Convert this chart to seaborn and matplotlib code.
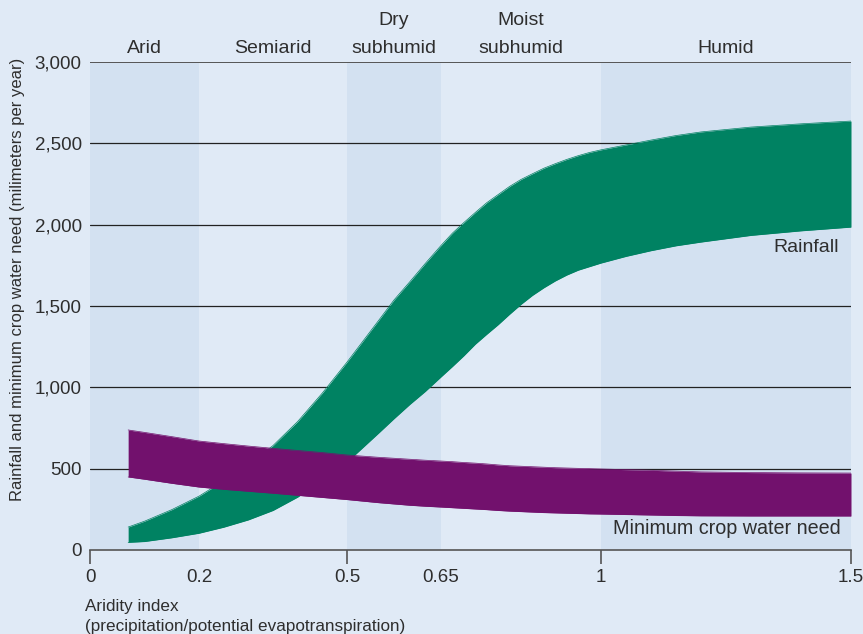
import matplotlib
matplotlib.use("Agg")
import matplotlib.pyplot as plt
import numpy as np
import seaborn as sns
import pandas as pd

# aridity zones (band edges on the aridity index axis)
zone_edges = [0, 0.2, 0.5, 0.65, 1, 1.5]
zone_names = ["Arid", "Semiarid", "Dry\nsubhumid", "Moist\nsubhumid", "Humid"]
tick_vals = [0, 0.2, 0.5, 0.65, 1, 1.5]
tick_text = ["0", "0.2", "0.5", "0.65", "1", "1.5"]
y_ticks = [0, 500, 1000, 1500, 2000, 2500, 3000]

# curves (mm per year)
aridity = [0.07, 0.1, 0.15, 0.2, 0.25, 0.3, 0.35, 0.4, 0.45, 0.5, 0.55, 0.575, 0.6,
           0.625, 0.65, 0.675, 0.7, 0.725, 0.75, 0.775, 0.8, 0.825, 0.85, 0.875,
           0.9, 0.925, 0.95, 0.975, 1.0, 1.05, 1.1, 1.15, 1.2, 1.3, 1.4, 1.5]
rain_high = [141, 177, 248, 331, 425, 525, 642, 790, 965, 1155, 1409, 1537, 1648,
             1762, 1872, 1948, 2013, 2075, 2135, 2185, 2235, 2278, 2313, 2347,
             2375, 2401, 2424, 2444, 2460, 2490, 2520, 2548, 2570, 2600, 2620, 2637]
rain_low = [47, 52, 75, 103, 140, 185, 243, 325, 430, 540, 717, 807, 894,
            975, 1064, 1128, 1194, 1265, 1326, 1385, 1449, 1510, 1565, 1612,
            1654, 1690, 1720, 1742, 1764, 1805, 1840, 1870, 1893, 1934, 1962, 1985]
need_high = [738, 723, 697, 670, 654, 639, 625, 612, 599, 584, 570, 564, 558,
             552, 547, 543, 538, 534, 529, 523, 518, 515, 512, 509,
             506, 504, 502, 500, 498, 494, 490, 485, 480, 476, 474, 473]
need_low = [449, 435, 410, 387, 373, 361, 349, 336, 323, 310, 291, 283, 275,
            269, 264, 260, 256, 252, 248, 243, 239, 236, 233, 230,
            228, 226, 224, 222, 221, 218, 215, 212, 210, 209, 209, 209]

df = pd.DataFrame({"aridity": aridity, "rain_high": rain_high, "rain_low": rain_low,
                   "need_high": need_high, "need_low": need_low})

bg = "#e0eaf6"
band_dark = "#d3e1f1"
green = "#008262"
purple = "#72116d"
txt = "#2e2e2e"

sns.set_style("white")
plt.rcParams['font.family'] = ['Liberation Sans', 'DejaVu Sans']

fig = plt.figure(figsize=(8.63, 6.34), dpi=100, facecolor=bg)
ax = fig.add_axes([90/863, 84/634, 761/863, 488/634])
ax.set_facecolor(bg)

# uneven spacing of the aridity axis
pix = [0, 109, 257, 351, 511, 761]
fwd = lambda x: np.interp(x, zone_edges, pix)
inv = lambda p: np.interp(p, pix, zone_edges)
ax.set_xscale('function', functions=(fwd, inv))
ax.set_xlim(0, 1.5)
ax.set_ylim(0, 3000)

for i in range(len(zone_names)):
    if i % 2 == 0:
        ax.axvspan(zone_edges[i], zone_edges[i+1], color=band_dark, lw=0, zorder=0)

for v in y_ticks[1:]:
    ax.axhline(v, color="#222222" if v < 3000 else "#555555",
               lw=0.9 if v < 3000 else 1.4, zorder=1)

ax.fill_between(df["aridity"], df["rain_low"], df["rain_high"], color=green, lw=0, zorder=2)
sns.lineplot(data=df, x="aridity", y="rain_high", color=green, lw=0.5, ax=ax, zorder=2)
sns.lineplot(data=df, x="aridity", y="rain_low", color=green, lw=0.5, ax=ax, zorder=2)
ax.fill_between(df["aridity"], df["need_low"], df["need_high"], color=purple, lw=0, zorder=3)
sns.lineplot(data=df, x="aridity", y="need_high", color=purple, lw=0.5, ax=ax, zorder=3)
sns.lineplot(data=df, x="aridity", y="need_low", color=purple, lw=0.5, ax=ax, zorder=3)

for s in ["top", "right", "left"]:
    ax.spines[s].set_visible(False)
ax.spines["bottom"].set_color("#555555")
ax.spines["bottom"].set_linewidth(1.2)

ax.set_xticks(tick_vals)
ax.set_xticklabels(tick_text)
ax.set_yticks(y_ticks)
ax.set_yticklabels([f"{v:,}" for v in y_ticks])
ax.tick_params(axis="x", bottom=True, length=10, width=1.2, color="#555555", pad=4,
               labelsize=13.5, labelcolor=txt)
ax.tick_params(axis="y", left=False, length=0, pad=6, labelsize=13.5, labelcolor=txt)
for i, v in enumerate(tick_vals):
    if v in (0.2, 0.65):
        ax.xaxis.get_major_ticks()[i].tick1line.set_visible(False)
ax.set_xlabel("")
ax.set_ylabel("")

# zone names above the plot
for i, name in enumerate(zone_names):
    mid = inv((fwd(zone_edges[i]) + fwd(zone_edges[i+1])) / 2)
    lines = name.split("\n")
    ax.text(mid, 3086, lines[-1], ha="center", va="center", fontsize=14,
            color=txt, clip_on=False)
    if len(lines) > 1:
        ax.text(mid, 3258, lines[0], ha="center", va="center", fontsize=14,
                color=txt, clip_on=False)

ax.text(1.475, 1860, "Rainfall", ha="right", va="center", fontsize=14, color=txt)
ax.text(1.48, 135, "Minimum crop water need", ha="right", va="center",
        fontsize=14.2, color=txt)

fig.text(18/863, 1 - 279/634, "Rainfall and minimum crop water need (milimeters per year)",
         rotation=90, ha="center", va="center", fontsize=12, color=txt)
fig.text(85/863, 1 - 607/634, "Aridity index", ha="left", va="center",
         fontsize=12.3, color=txt)
fig.text(85/863, 1 - 626/634, "(precipitation/potential evapotranspiration)",
         ha="left", va="center", fontsize=12.3, color=txt)

fig.savefig("out.png", dpi=100, facecolor=bg)
